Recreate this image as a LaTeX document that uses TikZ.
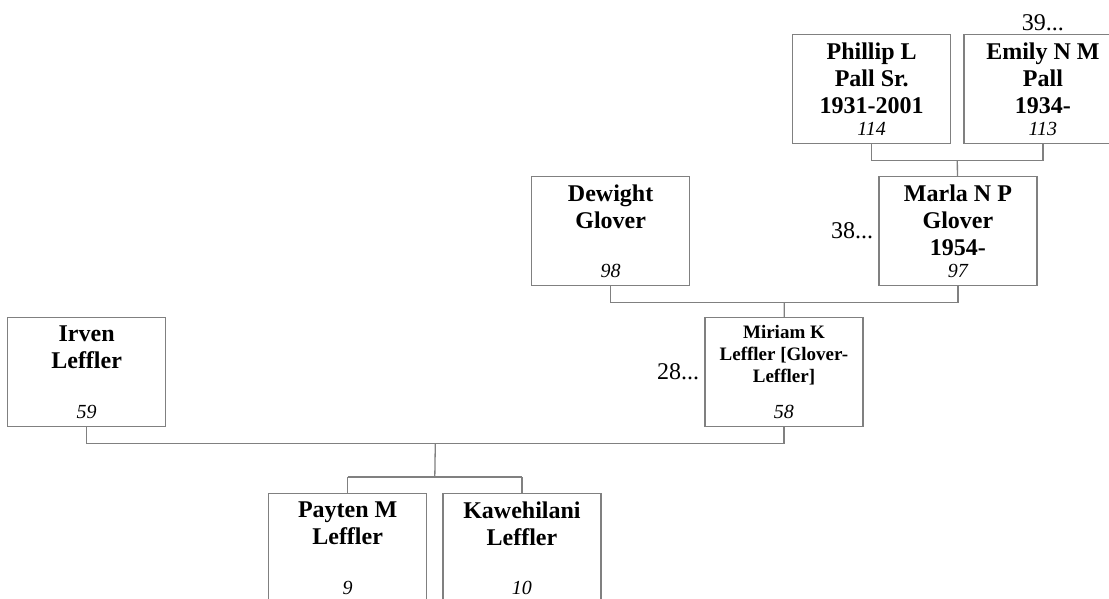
\documentclass[tikz,border=0pt]{standalone}
\usepackage{fontspec}
\setmainfont{Liberation Serif}
\usetikzlibrary{positioning, calc}

\newcommand{\namesize}{\fontsize{24}{27}\selectfont}
\newcommand{\smallnamesize}{\fontsize{19}{22}\selectfont}
\newcommand{\numsize}{\fontsize{20}{22}\selectfont}
% box text: name at the top, number at the bottom
\newcommand{\pers}[3][\namesize]{\parbox[t][93pt][t]{150pt}{\centering #1\bfseries #2\par\vfill\numsize\mdseries\itshape #3}}

\tikzset{
  person/.style={draw=gray, fill=white, line width=1.3pt, inner xsep=4pt, inner ysep=8pt},
  link/.style={gray, line width=1.3pt},
  more/.style={font=\fontsize{24}{27}\selectfont, inner sep=3pt}
}

\begin{document}
\begin{tikzpicture}[x=1pt,y=1pt]
\useasboundingbox (0,0) rectangle (1109,-598);

\node[person, anchor=north west] (Phillip) at (792,-34) {\pers{Phillip L\\Pall Sr.\\1931-2001}{114}};
\node[person, right=12pt of Phillip] (Emily) {\pers{Emily N M\\Pall\\1934-}{113}};
\node[more, above=0pt of Emily] (E39) {39...};

\node[person, anchor=north west] (Dewight) at (531,-176) {\pers{Dewight\\Glover}{98}};
\node[person, right=188pt of Dewight] (Marla) {\pers{Marla N P\\Glover\\1954-}{97}};
\node[more, left=2pt of Marla] (M38) {38...};

\node[person, anchor=north west] (Irven) at (7,-317) {\pers{Irven\\Leffler}{59}};
\node[person, right=538pt of Irven] (Miriam) {\pers[\smallnamesize]{Miriam K\\Leffler [Glover-\\Leffler]}{58}};
\node[more, left=2pt of Miriam] (M28) {28...};

\node[person, anchor=north west] (Payten) at (268,-493) {\pers{Payten M\\Leffler}{9}};
\node[person, right=15pt of Payten] (Kawehilani) {\pers{Kawehilani\\Leffler}{10}};

% couple bars
\coordinate[below=16pt of Phillip.south] (P1);
\coordinate[below=16pt of Emily.south] (P2);
\coordinate[below=16pt of Dewight.south] (G1);
\coordinate[below=16pt of Marla.south] (G2);
\coordinate[below=16pt of Irven.south] (L1);
\coordinate[below=16pt of Miriam.south] (L2);
% children bar
\coordinate[above=16pt of Payten.north] (C1);
\coordinate[above=16pt of Kawehilani.north] (C2);

\draw[link] (Phillip) -- (P1) -- (P2) -- (Emily);
\draw[link] ($(P1)!.5!(P2)$) -- (Marla);
\draw[link] (Dewight) -- (G1) -- (G2) -- (Marla);
\draw[link] ($(G1)!.5!(G2)$) -- (Miriam);
\draw[link] (Irven) -- (L1) -- (L2) -- (Miriam);
\draw[link] (C1) -- (C2);
\draw[link] ($(L1)!.5!(L2)$) -- ($(C1)!.5!(C2)$);
\draw[link] (C1) -- (Payten);
\draw[link] (C2) -- (Kawehilani);
\end{tikzpicture}
\end{document}
